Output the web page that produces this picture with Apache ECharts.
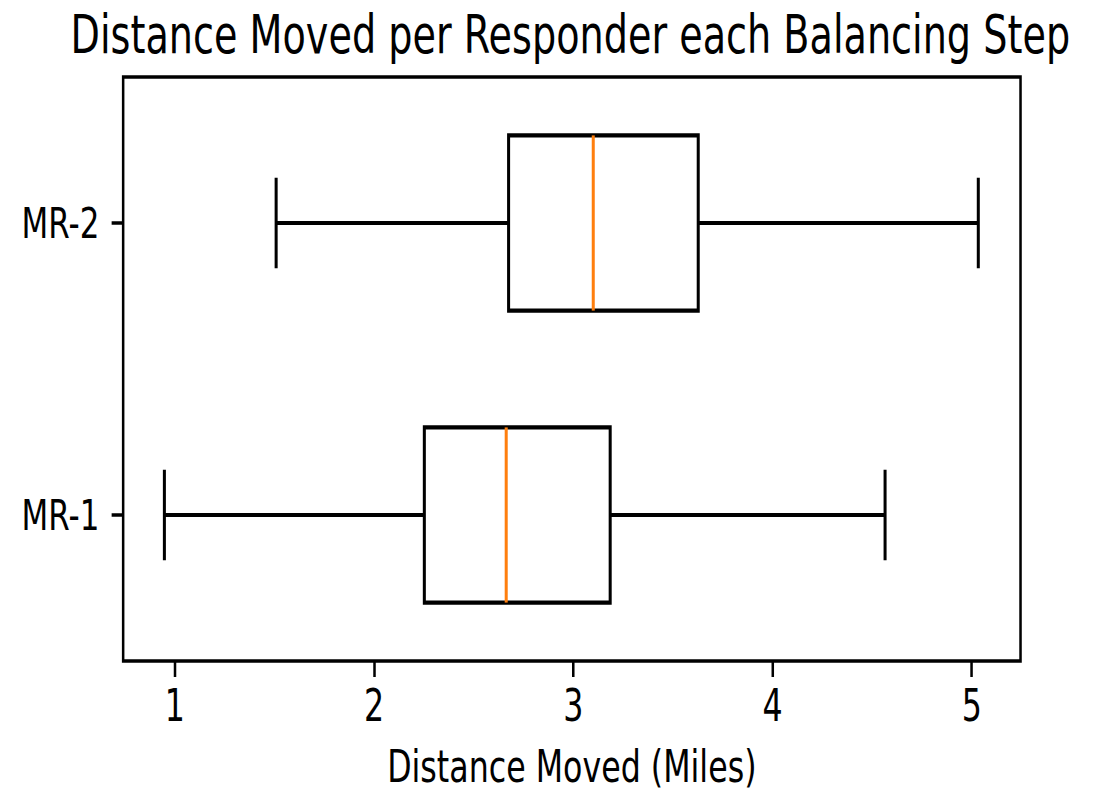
<!DOCTYPE html>
<html>
<head>
<meta charset="utf-8">
<script src="https://cdn.jsdelivr.net/npm/echarts@6/dist/echarts.min.js"></script>
<style>
html, body { margin: 0; padding: 0; background: #fff; overflow: hidden; }
#chart { width: 1526px; height: 794px; transform: scaleX(0.7202); transform-origin: 0 0; }
</style>
</head>
<body>
<div id="chart"></div>
<script>
const categories = ['MR-1', 'MR-2'];
const lowWhisker = [0.947, 1.508];
const q1Values = [2.252, 2.675];
const medianValues = [2.663, 3.100];
const q3Values = [3.185, 3.627];
const highWhisker = [4.565, 5.033];
const xTickValues = [1, 2, 3, 4, 5];

const boxData = categories.map((c, i) => [i, lowWhisker[i], q1Values[i], medianValues[i], q3Values[i], highWhisker[i]]);

const FONT = 'DejaVu Sans';

function renderItem(params, api) {
  const c = api.value(0);
  const lo = api.coord([api.value(1), c]);
  const q1 = api.coord([api.value(2), c]);
  const md = api.coord([api.value(3), c]);
  const q3 = api.coord([api.value(4), c]);
  const hi = api.coord([api.value(5), c]);
  const band = api.size([0, 1])[1];
  const bh = band * 0.6;
  const ch = band * 0.31;
  const y = q1[1];
  const ls = { stroke: '#000', lineWidth: 4.2, fill: null };
  return {
    type: 'group',
    children: [
      { type: 'line', shape: { x1: lo[0], y1: y, x2: q1[0], y2: y }, style: ls },
      { type: 'line', shape: { x1: q3[0], y1: y, x2: hi[0], y2: y }, style: ls },
      { type: 'line', shape: { x1: lo[0], y1: y - ch / 2, x2: lo[0], y2: y + ch / 2 }, style: ls },
      { type: 'line', shape: { x1: hi[0], y1: y - ch / 2, x2: hi[0], y2: y + ch / 2 }, style: ls },
      { type: 'rect', shape: { x: q1[0], y: y - bh / 2, width: q3[0] - q1[0], height: bh }, style: { stroke: '#000', lineWidth: 4.2, fill: null } },
      { type: 'line', shape: { x1: md[0], y1: y - bh / 2, x2: md[0], y2: y + bh / 2 }, style: { stroke: '#ff7f0e', lineWidth: 4.2 } }
    ]
  };
}

const chart = echarts.init(document.getElementById('chart'), null, { renderer: 'svg' });
chart.setOption({
  backgroundColor: '#fff',
  animation: false,
  title: {
    text: 'Distance Moved per Responder each Balancing Step',
    left: 93,
    top: 3,
    textStyle: { fontFamily: FONT, fontSize: 53, fontWeight: 'normal', color: '#000' }
  },
  grid: {
    left: 171, right: 109, top: 77, bottom: 127,
    show: true, borderColor: '#000', borderWidth: 3.5, backgroundColor: 'transparent'
  },
  xAxis: {
    type: 'value',
    min: 0.74,
    max: 5.245,
    name: 'Distance Moved (Miles)',
    nameLocation: 'middle',
    nameGap: 84,
    nameTextStyle: { fontFamily: FONT, fontSize: 44, color: '#000' },
    axisLine: { show: false },
    splitLine: { show: false },
    axisTick: { show: true, length: 16, customValues: xTickValues, lineStyle: { color: '#000', width: 3.5 } },
    axisLabel: { customValues: xTickValues, margin: 23, fontFamily: FONT, fontSize: 44, color: '#000' }
  },
  yAxis: {
    type: 'category',
    data: categories,
    axisLine: { show: false },
    splitLine: { show: false },
    axisTick: { show: true, alignWithLabel: true, length: 16, lineStyle: { color: '#000', width: 3.5 } },
    axisLabel: { margin: 33, fontFamily: FONT, fontSize: 43, color: '#000' }
  },
  series: [{
    type: 'custom',
    renderItem: renderItem,
    encode: { x: [1, 2, 3, 4, 5], y: 0 },
    data: boxData
  }]
});
</script>
</body>
</html>
